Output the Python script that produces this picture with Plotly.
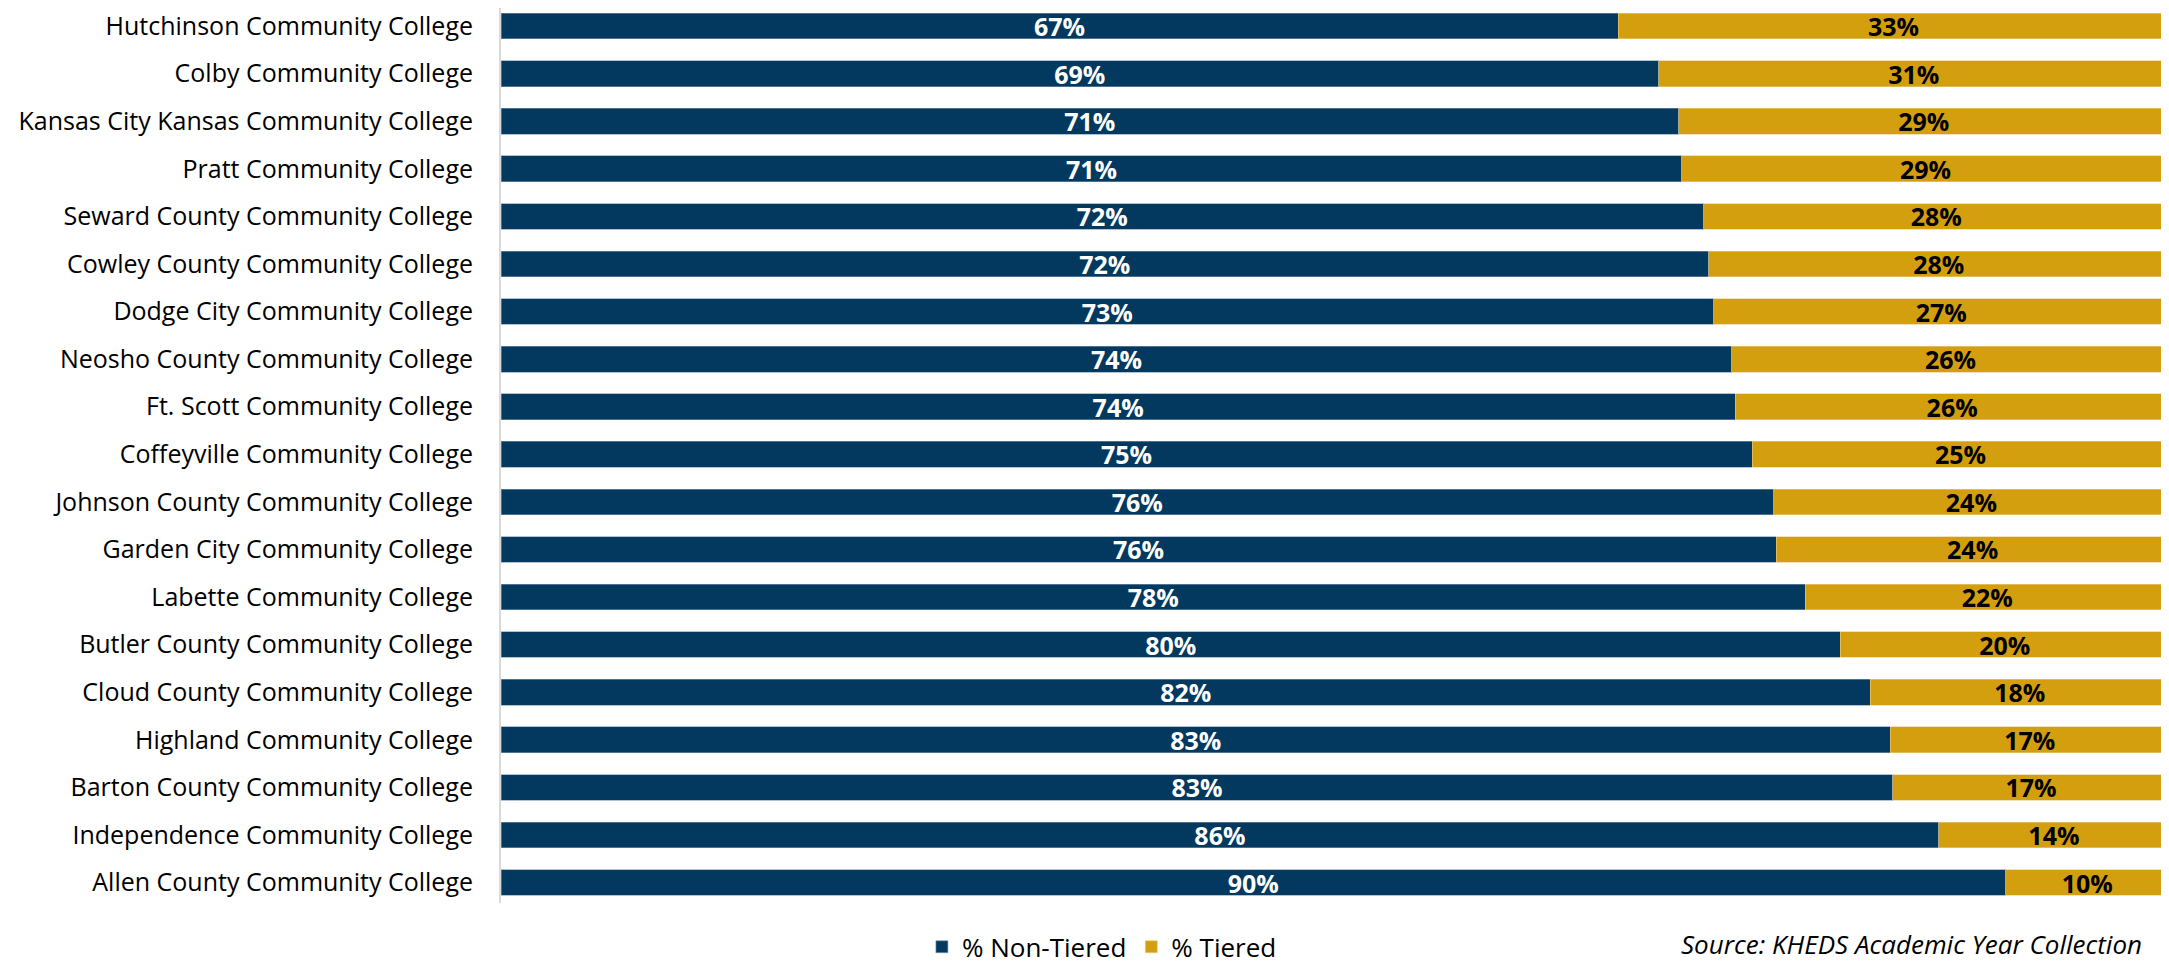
import plotly.graph_objects as go

colleges = [
    "Hutchinson Community College",
    "Colby Community College",
    "Kansas City Kansas Community College",
    "Pratt Community College",
    "Seward County Community College",
    "Cowley County Community College",
    "Dodge City Community College",
    "Neosho County Community College",
    "Ft. Scott Community College",
    "Coffeyville Community College",
    "Johnson County Community College",
    "Garden City Community College",
    "Labette Community College",
    "Butler County Community College",
    "Cloud County Community College",
    "Highland Community College",
    "Barton County Community College",
    "Independence Community College",
    "Allen County Community College",
]
non_tiered = [66.97, 69.4, 70.6, 70.8, 72.1, 72.4, 72.7, 73.8, 74.0, 75.0,
              76.3, 76.45, 78.2, 80.3, 82.1, 83.3, 83.45, 86.2, 90.2]
tiered = [100 - v for v in non_tiered]

NAVY = "#03395F"
GOLD = "#D49F0E"
FONT = "Open Sans"

fig = go.Figure()
fig.add_trace(go.Bar(
    y=colleges, x=non_tiered, orientation="h", name="% Non-Tiered",
    marker=dict(color=NAVY, line=dict(color="#7f9ab3", width=0.6)),
    texttemplate="%{x:.0f}%", textposition="inside", insidetextanchor="middle",
    textangle=0, constraintext="none",
    textfont=dict(family=FONT, size=25, color="white", weight="bold"),
    hoverinfo="skip",
))
fig.add_trace(go.Bar(
    y=colleges, x=tiered, orientation="h", name="% Tiered",
    marker=dict(color=GOLD, line=dict(color="#e8cf8a", width=0.6)),
    texttemplate="%{x:.0f}%", textposition="inside", insidetextanchor="middle",
    textangle=0, constraintext="none",
    textfont=dict(family=FONT, size=25, color="black", weight="bold"),
    hoverinfo="skip",
))

fig.update_layout(
    width=2153, height=957,
    barmode="stack", bargap=0.46,
    margin=dict(l=493, r=0, t=0, b=62, autoexpand=False),
    paper_bgcolor="white", plot_bgcolor="white",
    font=dict(family=FONT, size=24, color="black"),
    showlegend=True,
    legend=dict(orientation="h", x=0.362, xanchor="center", y=-0.049, yanchor="middle",
                font=dict(family=FONT, size=26, color="black"), traceorder="normal",
                itemwidth=30),
    xaxis=dict(range=[0, 99.52], visible=False, fixedrange=True),
    yaxis=dict(range=[18.43, -0.38], showline=True, linecolor="#d9d9d9", linewidth=2,
               ticks="outside", ticklen=21, tickcolor="rgba(0,0,0,0)",
               tickfont=dict(family=FONT, size=25, color="black"), showgrid=False),
    annotations=[dict(
        text="<i>Source: KHEDS Academic Year Collection</i>",
        xref="paper", yref="paper", x=0.9898, xanchor="right", y=-0.046, yanchor="middle",
        showarrow=False, font=dict(family=FONT, size=26, color="black"),
    )],
)

fig.write_html("out.html")
